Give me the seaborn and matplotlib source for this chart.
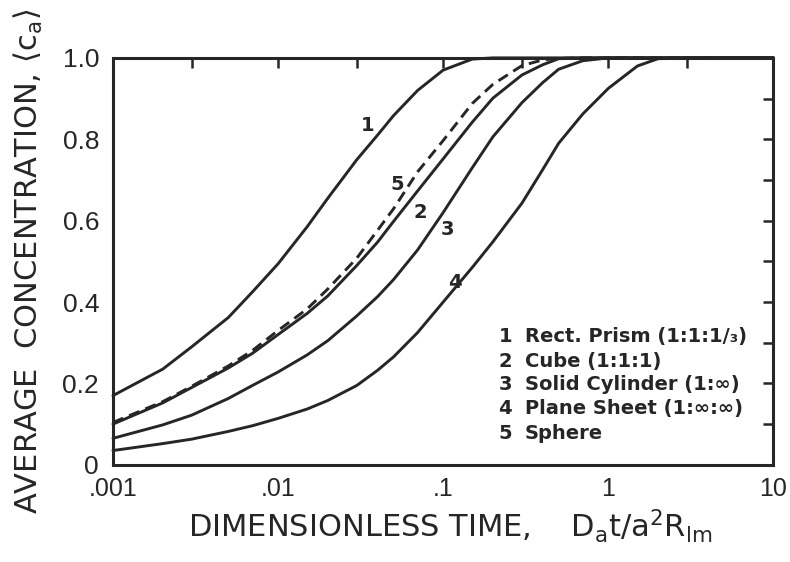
import matplotlib
matplotlib.use("Agg")
import matplotlib.pyplot as plt
from matplotlib.ticker import FixedLocator, FixedFormatter, NullFormatter
import pandas as pd
import seaborn as sns

# Dimensionless time D_a t / a^2 R_lm shared by every curve
t = [0.001, 0.002, 0.003, 0.005, 0.007, 0.01, 0.015, 0.02, 0.03, 0.04, 0.05, 0.07,
     0.1, 0.15, 0.2, 0.3, 0.4, 0.5, 0.7, 1.0, 1.5, 2.0, 3.0, 5.0, 10.0]

# Average concentration for each geometry
rect_prism = [0.17, 0.235, 0.29, 0.362, 0.425, 0.494, 0.585, 0.655, 0.75, 0.81, 0.858,
              0.92, 0.97, 0.997, 1, 1, 1, 1, 1, 1, 1, 1, 1, 1, 1]
cube = [0.10, 0.152, 0.19, 0.238, 0.274, 0.32, 0.372, 0.415, 0.49, 0.547, 0.598,
        0.673, 0.752, 0.842, 0.901, 0.958, 0.983, 0.998, 1, 1, 1, 1, 1, 1, 1]
solid_cylinder = [0.065, 0.098, 0.122, 0.163, 0.195, 0.228, 0.27, 0.305, 0.366, 0.413, 0.455,
                  0.528, 0.62, 0.73, 0.806, 0.89, 0.939, 0.972, 0.993, 1, 1, 1, 1, 1, 1]
plane_sheet = [0.035, 0.052, 0.063, 0.082, 0.096, 0.114, 0.137, 0.158, 0.195, 0.232, 0.265,
               0.325, 0.40, 0.485, 0.548, 0.643, 0.725, 0.79, 0.862, 0.925, 0.98,
               0.998, 1, 1, 1]
sphere = [0.104, 0.155, 0.193, 0.243, 0.281, 0.33, 0.383, 0.432, 0.508, 0.576, 0.629,
          0.72, 0.797, 0.888, 0.935, 0.981, 0.995, 0.999, 1, 1, 1, 1, 1, 1, 1]

curve_numbers = ["1", "2", "3", "4", "5"]
legend_texts = ["Rect. Prism (1:1:1/\u2083)", "Cube (1:1:1)", "Solid Cylinder (1:\u221e)",
                "Plane Sheet (1:\u221e:\u221e)", "Sphere"]

x_ticks = [0.001, 0.01, 0.1, 1, 10]
x_tick_labels = [".001", ".01", ".1", "1", "10"]
x_minor = [0.003, 0.03, 0.3, 3]
y_ticks = [0, 0.2, 0.4, 0.6, 0.8, 1.0]
y_tick_labels = ["0", "0.2", "0.4", "0.6", "0.8", "1.0"]
y_minor = [0.1, 0.3, 0.5, 0.7, 0.9]

INK = "#262626"

sns.set_style("white")
plt.rcParams["font.family"] = ["Liberation Sans", "DejaVu Sans"]
plt.rcParams["mathtext.fontset"] = "custom"
plt.rcParams["mathtext.rm"] = "DejaVu Sans"
plt.rcParams["mathtext.it"] = "DejaVu Sans"
plt.rcParams["text.color"] = INK

fig = plt.figure(figsize=(7.9, 5.62), dpi=100)
ax = fig.add_axes([0.143, 0.173, 0.836, 0.724])

series = {"1": rect_prism, "2": cube, "3": solid_cylinder, "4": plane_sheet, "5": sphere}
for key, vals in series.items():
    df = pd.DataFrame({"t": t, "c": vals})
    if key == "5":
        sns.lineplot(data=df, x="t", y="c", ax=ax, color=INK, lw=2.1,
                     linestyle=(0, (3.8, 2.2)), clip_on=False)
    else:
        sns.lineplot(data=df, x="t", y="c", ax=ax, color=INK, lw=2.1, clip_on=False)

ax.set_xscale("log")
ax.set_xlim(0.001, 10)
ax.set_ylim(0, 1.0)

ax.xaxis.set_major_locator(FixedLocator(x_ticks))
ax.xaxis.set_major_formatter(FixedFormatter(x_tick_labels))
ax.xaxis.set_minor_locator(FixedLocator(x_minor))
ax.xaxis.set_minor_formatter(NullFormatter())
ax.yaxis.set_major_locator(FixedLocator(y_ticks))
ax.yaxis.set_major_formatter(FixedFormatter(y_tick_labels))
ax.yaxis.set_minor_locator(FixedLocator(y_minor))

ax.tick_params(which="both", direction="in", top=True, right=True, length=7,
               width=1.8, color=INK, labelcolor=INK)
ax.tick_params(axis="x", which="major", labelsize=18, pad=9)
ax.tick_params(axis="y", which="major", labelsize=19, pad=10)

for sp in ax.spines.values():
    sp.set_linewidth(2.2)
    sp.set_color(INK)

ax.set_xlabel(r"DIMENSIONLESS TIME,    $\mathrm{D_a t/a^2 R_{lm}}$", fontsize=22,
              color=INK, va="center", family="DejaVu Sans")
ax.xaxis.set_label_coords(0.51, -0.152)
ax.set_ylabel(r"AVERAGE  CONCENTRATION, $\langle\mathrm{c_a}\rangle$", fontsize=22,
              color=INK, va="center", family="DejaVu Sans")
ax.yaxis.set_label_coords(-0.128, 0.5)

# Numbers marking each curve
label_pos = {"1": (0.035, 0.835), "5": (0.053, 0.688), "2": (0.073, 0.62),
             "3": (0.106, 0.577), "4": (0.117, 0.447)}
for key, (xx, yy) in label_pos.items():
    ax.text(xx, yy, key, fontsize=14, fontweight="bold", ha="center", va="center",
            color=INK, family="DejaVu Sans")

# Key to the curve numbers
key_y = [0.315, 0.254, 0.197, 0.139, 0.077]
for num, txt, yy in zip(curve_numbers, legend_texts, key_y):
    ax.text(0.594, yy, num, transform=ax.transAxes, fontsize=14, fontweight="bold",
            ha="center", va="center", color=INK, family="DejaVu Sans")
    ax.text(0.624, yy, txt, transform=ax.transAxes, fontsize=14, fontweight="bold",
            ha="left", va="center", color=INK, family="DejaVu Sans")

fig.savefig("out.png", dpi=100, facecolor="white")
